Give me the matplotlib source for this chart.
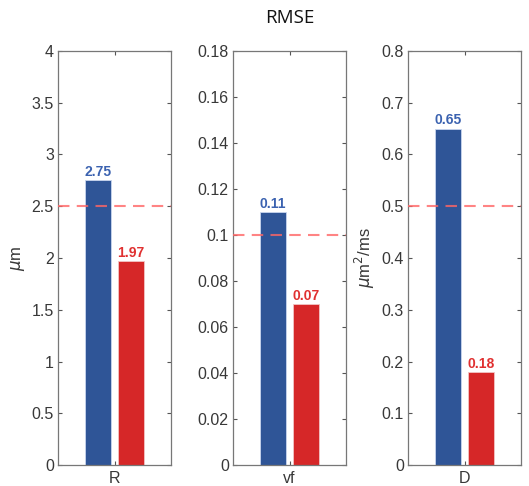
import matplotlib
matplotlib.use("Agg")
import matplotlib.pyplot as plt
import numpy as np

plt.rcParams['font.family'] = ['Liberation Sans', 'DejaVu Sans']

categories = ['R', 'vf', 'D']
blue_vals = [2.75, 0.11, 0.65]
red_vals = [1.97, 0.07, 0.18]
blue_labels = ['2.75', '0.11', '0.65']
red_labels = ['1.97', '0.07', '0.18']
thresholds = [2.5, 0.1, 0.5]
ylims = [4, 0.18, 0.8]
yticks = [np.arange(0, 4.01, 0.5), np.arange(0, 0.1801, 0.02), np.arange(0, 0.801, 0.1)]
ytick_labels = [
    ['0', '0.5', '1', '1.5', '2', '2.5', '3', '3.5', '4'],
    ['0', '0.02', '0.04', '0.06', '0.08', '0.1', '0.12', '0.14', '0.16', '0.18'],
    ['0', '0.1', '0.2', '0.3', '0.4', '0.5', '0.6', '0.7', '0.8'],
]
ylabels = ['$\\mu$m', None, '$\\mu$m$^2$/ms']

blue = '#2f5597'
red = '#d62728'

fig = plt.figure(figsize=(5.29, 4.86), dpi=100)
lefts = [58 / 529, 233 / 529, 408 / 529]
w = 113 / 529
b = 21 / 486
h = 414 / 486

for i in range(3):
    ax = fig.add_axes([lefts[i], b, w, h])
    ax.bar([-0.146], [blue_vals[i]], width=0.23, color=blue, edgecolor='#c9d6ee', linewidth=0.6)
    ax.bar([0.146], [red_vals[i]], width=0.23, color=red, edgecolor='#f2c5c5', linewidth=0.6)
    ax.axhline(thresholds[i], color='#ff6666', linestyle=(0, (5.5, 3.5)), linewidth=1.5, alpha=0.8, zorder=3)
    ax.text(-0.146, blue_vals[i] + ylims[i] * 0.003, blue_labels[i], ha='center', va='bottom',
            color='#3b62b0', fontsize=10, fontweight='bold')
    ax.text(0.146, red_vals[i] + ylims[i] * 0.003, red_labels[i], ha='center', va='bottom',
            color='#e03030', fontsize=10, fontweight='bold')
    ax.set_xlim(-0.5, 0.5)
    ax.set_ylim(0, ylims[i])
    ax.set_yticks(yticks[i])
    ax.set_yticklabels(ytick_labels[i])
    ax.set_xticks([0])
    ax.set_xticklabels([categories[i]])
    ax.tick_params(direction='in', length=3, width=0.8, colors='#555555', labelcolor='#383838',
                   labelsize=11.5, top=True, right=True, pad=3)
    ax.tick_params(axis='x', pad=4)
    for s in ax.spines.values():
        s.set_color('#777777')
        s.set_linewidth(0.9)
    if ylabels[i]:
        ax.set_ylabel(ylabels[i], fontsize=12, color='#383838', labelpad=3)

fig.text(0.548, 0.963, 'RMSE', ha='center', va='center', fontsize=13.5,
         family=['Open Sans', 'DejaVu Sans'], color='#111111')

fig.savefig('out.png', dpi=100)
